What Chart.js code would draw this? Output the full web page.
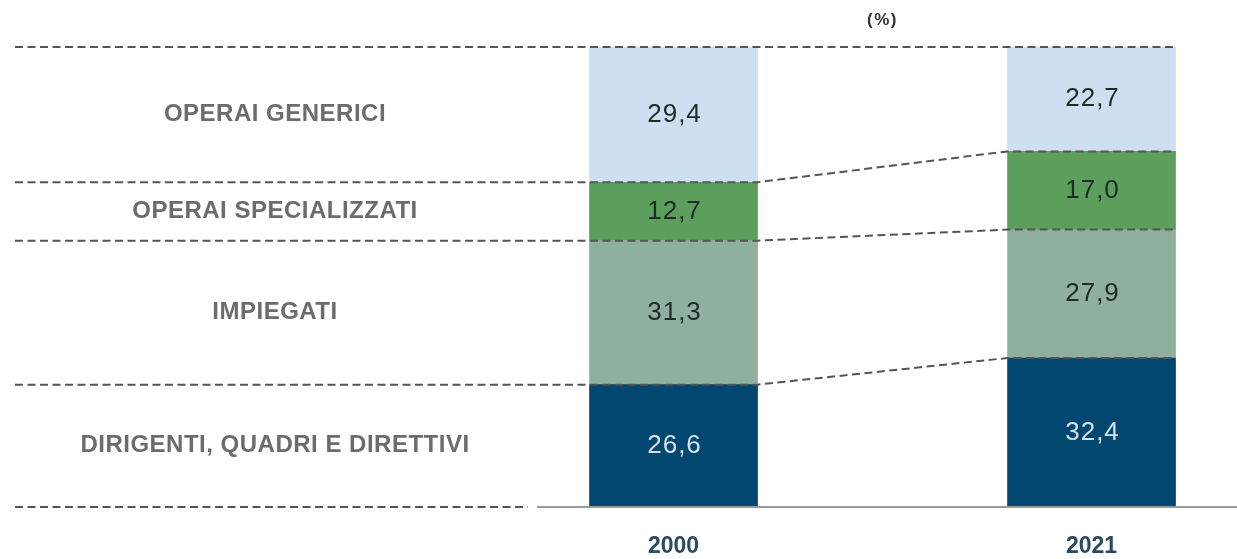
<!DOCTYPE html>
<html>
<head>
<meta charset="utf-8">
<script src="https://cdn.jsdelivr.net/npm/chart.js@4"></script>
<style>
    html, body { margin: 0; padding: 0; background: #ffffff; }
    #wrap { width: 1237px; height: 559px; position: relative; }
</style>
</head>
<body>
<div id="wrap"><canvas id="chart"></canvas></div>
<script>
// Data (stack order: bottom to top)
const years = ['2000', '2021'];
const categories = ['DIRIGENTI, QUADRI E DIRETTIVI', 'IMPIEGATI', 'OPERAI SPECIALIZZATI', 'OPERAI GENERICI'];
const dirigenti = [26.6, 32.4];
const impiegati = [31.3, 27.9];
const specializzati = [12.7, 17.0];
const generici = [29.4, 22.7];

const series = [dirigenti, impiegati, specializzati, generici];
const fillColors = ['#02476f', '#8fb09f', '#5c9e5b', '#cddff0'];
const valueColors = ['#d3e2ef', '#1e2b27', '#1e2b27', '#1e2b27'];

const FONT = "'Liberation Sans', Arial, Helvetica, sans-serif";

function fmt(v) {
    return v.toFixed(1).replace('.', ',');
}

// Dashed connectors, category labels, value labels
const overlay = {
    id: 'overlay',
    afterDatasetsDraw(chart) {
        const ctx = chart.ctx;
        const area = chart.chartArea;
        const metas = series.map((_, d) => chart.getDatasetMeta(d));
        const bottom = metas[0].data[0].base;

        ctx.save();

        // value labels
        ctx.textAlign = 'center';
        ctx.textBaseline = 'middle';
        ctx.font = '26px ' + FONT;
        ctx.letterSpacing = '1px';
        metas.forEach((meta, d) => {
            meta.data.forEach((bar, i) => {
                ctx.fillStyle = valueColors[d];
                ctx.fillText(fmt(series[d][i]), bar.x + 1, (bar.y + bar.base) / 2);
            });
        });

        // left category labels
        ctx.font = 'bold 24px ' + FONT;
        ctx.letterSpacing = '0.5px';
        ctx.fillStyle = '#6c6c6c';
        metas.forEach((meta, d) => {
            const bar = meta.data[0];
            ctx.fillText(categories[d], 275, (bar.y + bar.base) / 2);
        });

        // (%)
        ctx.letterSpacing = '1.5px';
        ctx.font = 'bold 17px ' + FONT;
        ctx.fillStyle = '#333333';
        const b0 = metas[0].data[0], b1 = metas[0].data[1];
        ctx.fillText('(%)', (b0.x + b1.x) / 2, area.top - 27);

        // dashed boundaries between segments
        ctx.strokeStyle = '#555555';
        ctx.lineWidth = 2;
        ctx.setLineDash([8, 4.5]);
        metas.forEach(meta => {
            const a = meta.data[0], b = meta.data[1];
            ctx.beginPath();
            ctx.moveTo(15, a.y);
            ctx.lineTo(a.x + a.width / 2, a.y);
            ctx.lineTo(b.x - b.width / 2, b.y);
            ctx.lineTo(b.x + b.width / 2, b.y);
            ctx.stroke();
        });
        ctx.beginPath();
        ctx.moveTo(15, bottom);
        ctx.lineTo(area.left - 9, bottom);
        ctx.stroke();

        // baseline
        ctx.setLineDash([]);
        ctx.strokeStyle = '#9a9a9a';
        ctx.beginPath();
        ctx.moveTo(area.left, bottom);
        ctx.lineTo(area.right, bottom);
        ctx.stroke();

        ctx.restore();
    }
};

new Chart(document.getElementById('chart'), {
    type: 'bar',
    data: {
        datasets: series.map((values, d) => ({
            label: categories[d],
            data: values.map((v, i) => ({ x: i, y: v })),
            backgroundColor: fillColors[d],
            borderWidth: 0,
            barThickness: 168
        }))
    },
    options: {
        responsive: true,
        maintainAspectRatio: false,
        animation: false,
        layout: { padding: { top: 47, left: 537, right: 0, bottom: 0 } },
        plugins: {
            legend: { display: false },
            tooltip: { enabled: false }
        },
        scales: {
            x: {
                type: 'linear',
                stacked: true,
                offset: false,
                min: -0.3266,
                max: 1.348,
                afterBuildTicks: axis => {
                    axis.ticks = years.map((_, i) => ({ value: i }));
                },
                afterFit: axis => {
                    axis.height = 52;
                },
                grid: { display: false, drawTicks: false },
                border: { display: false },
                ticks: {
                    padding: 26,
                    autoSkip: false,
                    maxRotation: 0,
                    color: '#2c4a5e',
                    font: { family: FONT, size: 23, weight: 'bold' },
                    callback: value => years[value]
                }
            },
            y: {
                stacked: true,
                min: 0,
                max: 100,
                display: false
            }
        }
    },
    plugins: [overlay]
});
</script>
</body>
</html>
